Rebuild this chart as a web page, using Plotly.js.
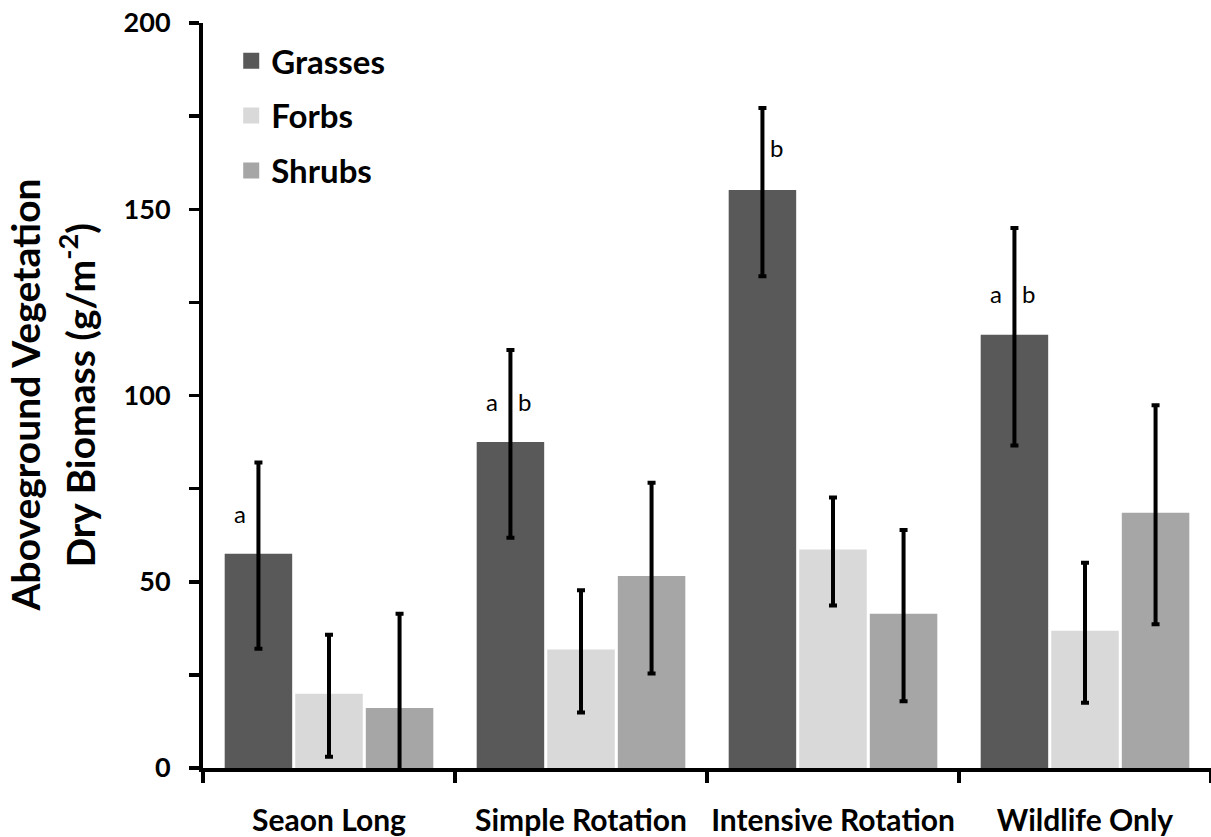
<!DOCTYPE html>
<html>
<head>
<meta charset="utf-8">
<script src="https://cdn.plot.ly/plotly-3.0.1.min.js"></script>
<style>html,body{margin:0;padding:0;background:#fff;}#chart{width:1211px;height:837px;}</style>
</head>
<body>
<div id="chart"></div>
<script>
const categories = ["Seaon Long", "Simple Rotation", "Intensive Rotation", "Wildlife Only"];
const grasses = [57.0, 87.0, 154.6, 115.8];
const grassesErr = [25.0, 25.2, 22.6, 29.2];
const forbs = [19.4, 31.3, 58.1, 36.3];
const forbsErr = [16.4, 16.4, 14.5, 18.8];
const shrubs = [15.6, 51.0, 40.9, 68.0];
const shrubsErr = [25.8, 25.6, 23.0, 29.4];
const leftLetters = ["a", "a", "", "a"];
const rightLetters = ["", "b", "b", "b"];
const letterY = [68.3, 98.3, 166.7, 127.3];
const yTickVals = [0, 50, 100, 150, 200];

const FONT = "Lato, 'Open Sans', sans-serif";
const BARGAP = 0.16;
const LINEW = 4;

function barTrace(name, y, err, color) {
  return {
    type: "bar", name: name, x: categories, y: y, legendgroup: name,
    marker: {color: color, line: {color: color, width: LINEW}},
    error_y: {type: "data", array: err, visible: true, color: "#000", thickness: 4, width: 4},
    hoverinfo: "x+y"
  };
}

const data = [
  barTrace("Grasses", grasses, grassesErr, "#595959"),
  barTrace("Forbs", forbs, forbsErr, "#D9D9D9"),
  barTrace("Shrubs", shrubs, shrubsErr, "#A6A6A6")
];

const slot = (1 - BARGAP) / 3;
const annotations = [];
categories.forEach(function (c, i) {
  const xc = i - slot;
  if (leftLetters[i]) annotations.push({x: xc, y: letterY[i], xref: "x", yref: "y", text: leftLetters[i], showarrow: false, xshift: -18, font: {family: FONT, size: 24, color: "#000"}});
  if (rightLetters[i]) annotations.push({x: xc, y: letterY[i], xref: "x", yref: "y", text: rightLetters[i], showarrow: false, xshift: 14, font: {family: FONT, size: 24, color: "#000"}});
});
annotations.push({xref: "paper", yref: "paper", x: 0, y: 0.5, xshift: -179, text: "Aboveground Vegetation", textangle: -90, showarrow: false, xanchor: "center", yanchor: "middle", font: {family: FONT, size: 39, color: "#000", weight: "bold"}});
annotations.push({xref: "paper", yref: "paper", x: 0, y: 0.5, xshift: -126, text: "Dry Biomass (g/m<sup>-2</sup>)", textangle: -90, showarrow: false, xanchor: "center", yanchor: "middle", font: {family: FONT, size: 39, color: "#000", weight: "bold"}});

const layout = {
  width: 1211, height: 837,
  margin: {l: 203, r: 0, t: 23, b: 69, pad: 0},
  paper_bgcolor: "#fff", plot_bgcolor: "#fff",
  barmode: "group", bargap: BARGAP, bargroupgap: 0.1,
  showlegend: true,
  legend: {x: 0.028, y: 0.987, xanchor: "left", yanchor: "top", traceorder: "grouped", tracegroupgap: 9,
    bgcolor: "rgba(0,0,0,0)", font: {family: FONT, size: 33, color: "#000", weight: "bold"}},
  xaxis: {type: "category", tickson: "boundaries", ticks: "outside", ticklen: 11, tickwidth: 3.5, tickcolor: "#000",
    showline: true, linecolor: "#000", linewidth: 4, showgrid: false, zeroline: false, ticklabelstandoff: 23,
    tickangle: 0, automargin: false,
    tickfont: {family: FONT, size: 30, color: "#000", weight: "bold"}},
  yaxis: {range: [0, 200], tickvals: yTickVals, ticks: "outside", ticklen: 10, tickwidth: 3.5, tickcolor: "#000",
    minor: {dtick: 25, ticks: "outside", ticklen: 10, tickwidth: 3.5, tickcolor: "#000", showgrid: false},
    showline: true, linecolor: "#000", linewidth: 4, showgrid: false, zeroline: false, ticklabelstandoff: 13,
    automargin: false,
    tickfont: {family: FONT, size: 27, color: "#000", weight: "bold"}},
  annotations: annotations
};

Plotly.newPlot("chart", data, layout, {displayModeBar: false, staticPlot: true});
</script>
</body>
</html>
